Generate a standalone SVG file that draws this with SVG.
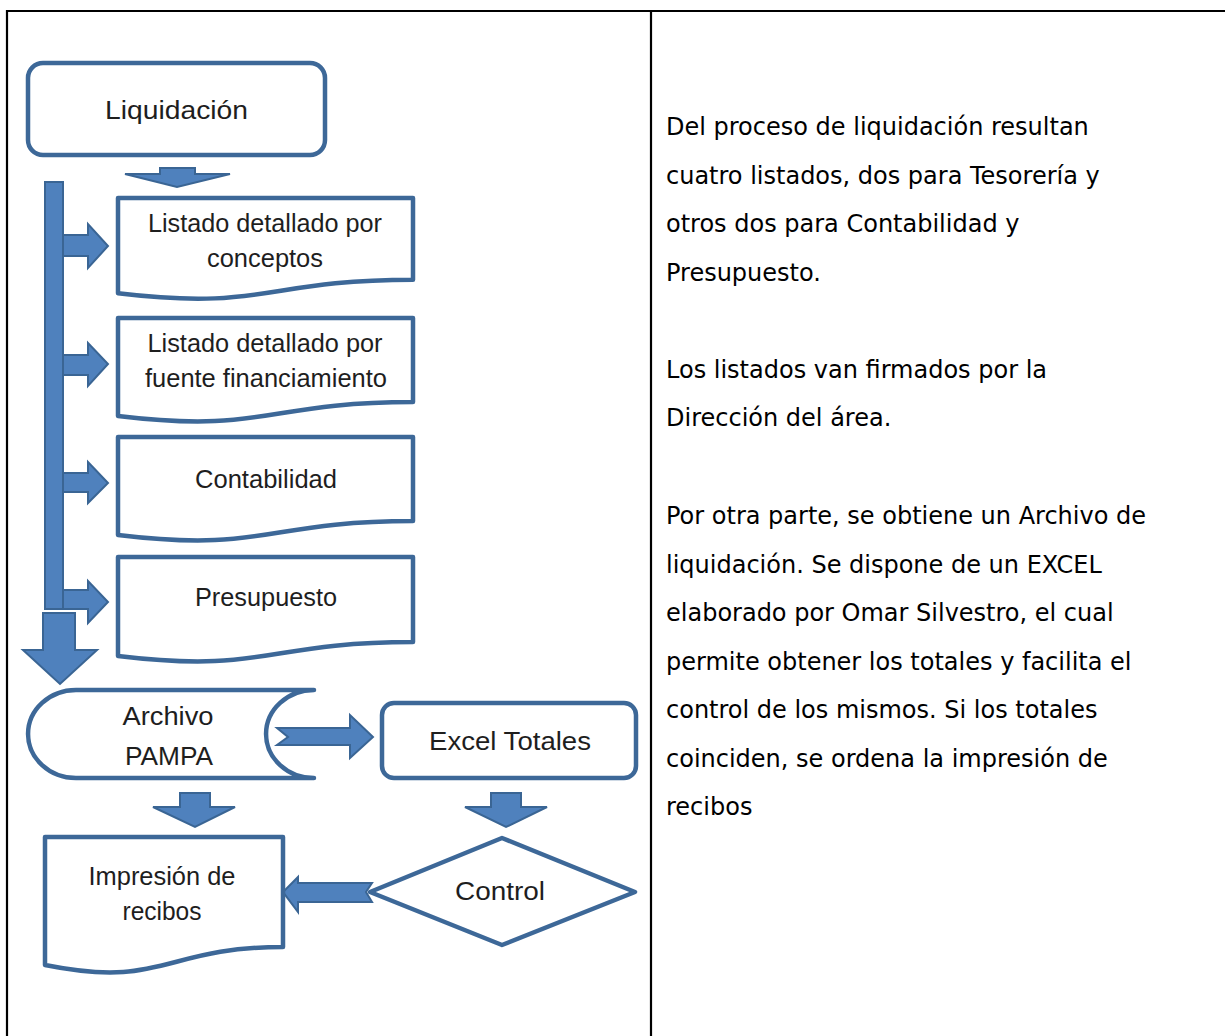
<svg xmlns="http://www.w3.org/2000/svg" width="1225" height="1036" viewBox="0 0 1225 1036">
  <style>
    .shape { fill: #ffffff; stroke: #3d6898; stroke-width: 4.5; stroke-linejoin: round; }
    .arrow { fill: #4f81bd; stroke: #3a6594; stroke-width: 2; stroke-linejoin: miter; }
    .lbl { font-family: "Liberation Sans", Arial, sans-serif; fill: #1e1e1e; text-anchor: middle; }
    .cal { font-size: 26px; }
    .nar { font-size: 26px; }
    .body { font-family: "DejaVu Sans", Verdana, sans-serif; font-size: 24px; fill: #000000; }
    .rule { stroke: #000000; stroke-width: 2.2; fill: none; }
  </style>

  <g id="table">
    <line class="rule" x1="6" y1="11" x2="1225" y2="11"/>
    <line class="rule" x1="7" y1="10" x2="7" y2="1036"/>
    <line class="rule" x1="651" y1="10" x2="651" y2="1036"/>
  </g>

  <g id="connectors">
    <path class="arrow" d="M160,168 H195 V174 H230 L177,187 L125,174 H160 Z"/>
    <rect class="arrow" x="45" y="182" width="18" height="427"/>
    <path class="arrow" d="M63,235 H88 V224 L108,246 L88,268 V256 H63 Z"/>
    <path class="arrow" d="M63,355 H88 V343 L108,364 L88,386 V375 H63 Z"/>
    <path class="arrow" d="M63,473 H88 V462 L108,483 L88,503 V492 H63 Z"/>
    <path class="arrow" d="M63,590 H88 V581 L108,602 L88,623 V609 H63 Z"/>
    <path class="arrow" d="M43,613 H75 V650 H97 L60,684 L23,650 H43 Z"/>
    <path class="arrow" d="M277,728 H350 V715 L373,737 L350,758 V745 H277 L288,737 Z"/>
    <path class="arrow" d="M180,793 H210 V807 H235 L195,827 L153,807 H180 Z"/>
    <path class="arrow" d="M491,793 H521 V807 H547 L506,827 L465,807 H491 Z"/>
    <path class="arrow" d="M372,883 H298 V877 L283,892 L298,912 V902 H372 L366,892 Z"/>
  </g>

  <g id="node-liquidacion">
    <rect class="shape" x="28" y="63" width="297" height="92" rx="15"/>
    <text class="lbl cal" x="176.5" y="119" textLength="143" lengthAdjust="spacingAndGlyphs">Liquidación</text>
  </g>

  <g id="node-listado-conceptos">
    <path class="shape" d="M118,198 H413 V279.8 C265.5,279.8 265.5,311 118,293.3 Z"/>
    <text class="lbl nar" x="265" y="232" textLength="234" lengthAdjust="spacingAndGlyphs">Listado detallado por</text>
    <text class="lbl nar" x="265" y="267" textLength="116" lengthAdjust="spacingAndGlyphs">conceptos</text>
  </g>

  <g id="node-listado-fuente">
    <path class="shape" d="M118,318 H413 V402 C265.5,402 265.5,434 118,416 Z"/>
    <text class="lbl nar" x="265" y="352" textLength="235" lengthAdjust="spacingAndGlyphs">Listado detallado por</text>
    <text class="lbl nar" x="266" y="387" textLength="242" lengthAdjust="spacingAndGlyphs">fuente financiamiento</text>
  </g>

  <g id="node-contabilidad">
    <path class="shape" d="M118,437 H413 V521 C265.5,521 265.5,553 118,535 Z"/>
    <text class="lbl nar" x="266" y="488" textLength="142" lengthAdjust="spacingAndGlyphs">Contabilidad</text>
  </g>

  <g id="node-presupuesto">
    <path class="shape" d="M118,557 H413 V642 C265.5,642 265.5,674 118,656 Z"/>
    <text class="lbl nar" x="266" y="606" textLength="142" lengthAdjust="spacingAndGlyphs">Presupuesto</text>
  </g>

  <g id="node-archivo-pampa">
    <path class="shape" d="M76,690 H314 A48,44 0 0 0 314,778 H76 A48,44 0 0 1 76,690 Z"/>
    <text class="lbl cal" x="168" y="725" textLength="91" lengthAdjust="spacingAndGlyphs">Archivo</text>
    <text class="lbl cal" x="169" y="765" textLength="88" lengthAdjust="spacingAndGlyphs">PAMPA</text>
  </g>

  <g id="node-excel-totales">
    <rect class="shape" x="382" y="703" width="254" height="75" rx="12"/>
    <text class="lbl cal" x="510" y="750" textLength="162" lengthAdjust="spacingAndGlyphs">Excel Totales</text>
  </g>

  <g id="node-impresion">
    <path class="shape" d="M45,837 H283 V947 C164,947 164,989 45,965 Z"/>
    <text class="lbl nar" x="162" y="885" textLength="147" lengthAdjust="spacingAndGlyphs">Impresión de</text>
    <text class="lbl nar" x="162" y="920" textLength="79" lengthAdjust="spacingAndGlyphs">recibos</text>
  </g>

  <g id="node-control">
    <path class="shape" d="M370,892 L502,838 L635,892 L502,945 Z"/>
    <text class="lbl cal" x="500" y="900" textLength="90" lengthAdjust="spacingAndGlyphs">Control</text>
  </g>

  <g id="description">
    <text class="body" x="666" y="135">Del proceso de liquidación resultan</text>
    <text class="body" x="666" y="183.5">cuatro listados, dos para Tesorería y</text>
    <text class="body" x="666" y="232">otros dos para Contabilidad y</text>
    <text class="body" x="666" y="280.5">Presupuesto.</text>
    <text class="body" x="666" y="377.5">Los listados van firmados por la</text>
    <text class="body" x="666" y="426">Dirección del área.</text>
    <text class="body" x="666" y="524">Por otra parte, se obtiene un Archivo de</text>
    <text class="body" x="666" y="572.5">liquidación. Se dispone de un EXCEL</text>
    <text class="body" x="666" y="621">elaborado por Omar Silvestro, el cual</text>
    <text class="body" x="666" y="669.5">permite obtener los totales y facilita el</text>
    <text class="body" x="666" y="718">control de los mismos. Si los totales</text>
    <text class="body" x="666" y="766.5">coinciden, se ordena la impresión de</text>
    <text class="body" x="666" y="815">recibos</text>
  </g>
</svg>
